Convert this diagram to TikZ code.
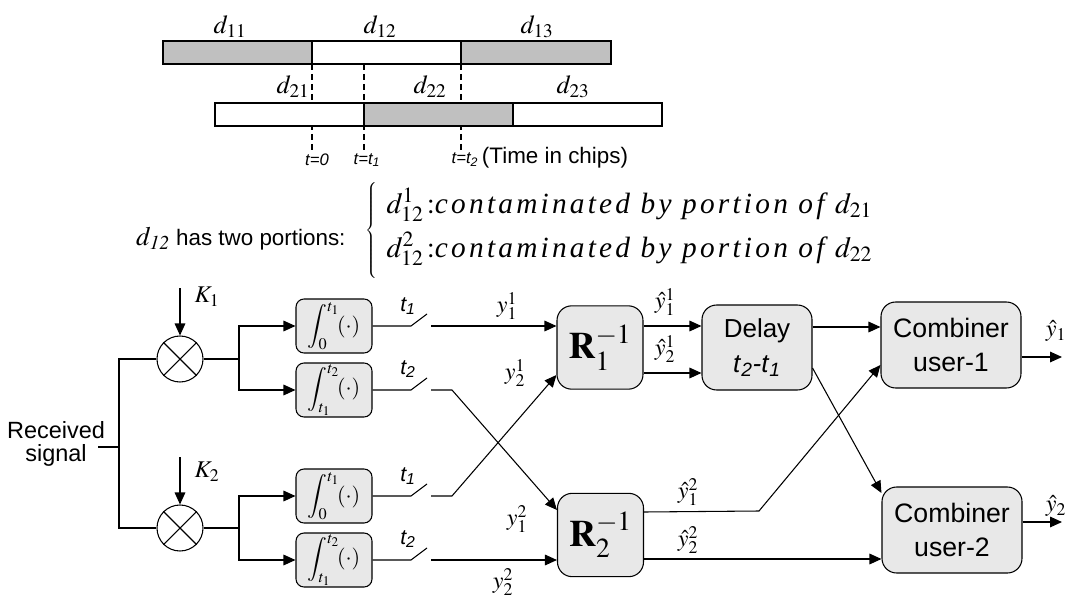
\documentclass[tikz,border=0pt]{standalone}
\usepackage{mathptmx}
\usepackage[no-math]{fontspec}
\setmainfont{Liberation Sans}
\newfontfamily\tmsx[LetterSpace=11]{Liberation Serif}
\usetikzlibrary{arrows.meta}
\definecolor{boxgray}{RGB}{232,232,232}
\definecolor{bargray}{RGB}{192,192,192}
\tikzset{
  blk/.style={draw, fill=boxgray, inner sep=0pt, align=center},
  bar/.style={draw, line width=1.4pt},
  dsh/.style={dashed, line width=1.2pt, dash pattern=on 4.5pt off 3pt},
  mult/.style={draw, circle, minimum size=34.5pt, inner sep=0pt},
  lbl/.style={inner sep=0pt, font=\fontsize{18}{18}\selectfont},
  slbl/.style={inner sep=0pt, font=\fontsize{16}{16}\selectfont\itshape},
  sans/.style={inner sep=0pt, align=center},
}
\begin{document}
\begin{tikzpicture}[x=0.75pt, y=-0.75pt, line width=0.8pt,
  >={Triangle[length=9pt,width=8pt]}]
\useasboundingbox (0,0) rectangle (1070,599);

% ---------- timing bars ----------
\draw[dsh] (312,64) -- (312,150);
\draw[dsh] (364,64) -- (364,150);
\draw[dsh] (461,64) -- (461,150);
\draw[bar, fill=bargray] (163,41) rectangle (312,64);
\draw[bar, fill=white]   (312,41) rectangle (461,64);
\draw[bar, fill=bargray] (461,41) rectangle (611,64);
\draw[bar, fill=white]   (215,103) rectangle (364,126);
\draw[bar, fill=bargray] (364,103) rectangle (513,126);
\draw[bar, fill=white]   (513,103) rectangle (662,126);

\begin{scope}[every node/.style={inner sep=0pt, font=\fontsize{19.5}{19.5}\selectfont}]
\node (d11) at (230,27) {$d_{11}$};
\node (d12) at (380,27) {$d_{12}$};
\node (d13) at (537,27) {$d_{13}$};
\node (d21) at (293,87) {$d_{21}$};
\node (d22) at (430,87) {$d_{22}$};
\node (d23) at (573,87) {$d_{23}$};
\end{scope}

\begin{scope}[every node/.style={inner sep=0pt, font=\fontsize{12.5}{12.5}\selectfont\itshape}]
\node (t0) at (317,160) {t=0};
\node (tt1) at (367,160) {t=t\textsubscript{1}};
\node (tt2) at (465,160) {t=t\textsubscript{2}};
\end{scope}
\node[sans, font=\fontsize{16.8}{16.8}\selectfont] (tic) at (555,158) {(Time in chips)};

% ---------- portions ----------
\node[sans, anchor=base east, font=\fontsize{16.8}{16.8}\selectfont] (por) at (346,245)
  {{\fontsize{20}{20}\selectfont$d_{\mathit{12}}$} has two portions:};
\node[inner sep=0pt] (brace) at (372,231) {$\left\{\vrule height 34pt depth 34pt width 0pt\right.$};
\node[inner sep=0pt, anchor=base west, font=\fontsize{22}{22}\selectfont] (e1) at (386,213)
  {$d_{12}^{1}\,{:}$\tmsx\itshape contaminated by portion of \normalfont$d_{21}$};
\node[inner sep=0pt, anchor=base west, font=\fontsize{22}{22}\selectfont] (e2) at (386,257)
  {$d_{12}^{2}\,{:}$\tmsx\itshape contaminated by portion of \normalfont$d_{22}$};

% ---------- receiver front end ----------
\node[sans, font=\fontsize{17.6}{17.5}\selectfont] (rx) at (56,444) {Received\\signal};
\coordinate (rin) at (98,447);
\coordinate (rj) at (119,447);

\node[mult] (m1) at (180,359) {};
\node[mult] (m2) at (180,528) {};
\draw (m1.north west) -- (m1.south east) (m1.north east) -- (m1.south west);
\draw (m2.north west) -- (m2.south east) (m2.north east) -- (m2.south west);
\coordinate (k1) at (180,288);
\coordinate (k2) at (180,457);
\draw[->] (k1) -- (m1.north);
\draw[->] (k2) -- (m2.north);
\node[lbl] (K1) at (207,297) {$K_1$};
\node[lbl] (K2) at (207,472) {$K_2$};

\draw (rin) -- (rj);
\draw (m1.west) -| (rj) |- (m2.west);

\begin{scope}[every node/.style={blk, rounded corners=6pt, minimum width=57pt, minimum height=40.5pt, font=\fontsize{16.5}{16.5}\selectfont}]
\node (i1) at (334,326) {$\displaystyle\int_0^{t_1}\!\!\left(\cdot\right)$};
\node (i2) at (334,390) {$\displaystyle\int_{t_1}^{t_2}\!\!\left(\cdot\right)$};
\node (i3) at (334,496) {$\displaystyle\int_0^{t_1}\!\!\left(\cdot\right)$};
\node (i4) at (334,560) {$\displaystyle\int_{t_1}^{t_2}\!\!\left(\cdot\right)$};
\end{scope}

\coordinate (s1) at (239,359);
\coordinate (s2) at (239,528);
\draw (m1.east) -- (s1);
\draw (m2.east) -- (s2);
\draw[->] (s1) |- (i1.west);
\draw[->] (s1) |- (i2.west);
\draw[->] (s2) |- (i3.west);
\draw[->] (s2) |- (i4.west);

% switches
\coordinate (a1) at (411,326); \coordinate (b1) at (427,314); \coordinate (c1) at (431,326);
\coordinate (a2) at (411,390); \coordinate (b2) at (427,378); \coordinate (c2) at (431,390);
\coordinate (a3) at (411,496); \coordinate (b3) at (427,484); \coordinate (c3) at (431,496);
\coordinate (a4) at (411,560); \coordinate (b4) at (427,548); \coordinate (c4) at (431,560);
\draw (i1.east) -- (a1) -- (b1);
\draw (i2.east) -- (a2) -- (b2);
\draw (i3.east) -- (a3) -- (b3);
\draw (i4.east) -- (a4) -- (b4);

\node[slbl] (ts1) at (408,306) {t\textsubscript{1}};
\node[slbl] (ts2) at (408,369) {t\textsubscript{2}};
\node[slbl] (ts3) at (408,476) {t\textsubscript{1}};
\node[slbl] (ts4) at (408,539) {t\textsubscript{2}};

% ---------- decorrelators ----------
\begin{scope}[every node/.style={blk, rounded corners=11pt, minimum width=64.5pt, minimum height=62.5pt, font=\fontsize{28}{28}\selectfont}]
\node (r1) at (600,347.5) {$\mathbf{R}_1^{-1}$};
\node (r2) at (600.5,535) {$\mathbf{R}_2^{-1}$};
\end{scope}

\coordinate (q2) at (452,390);
\coordinate (q3) at (452,496);
\coordinate (h375) at (0,375);
\coordinate (h510) at (0,510);
\draw[->] (c1) -- (c1 -| r1.west);
\draw[->] (c2) -- (q2) -- (r2.west |- h510);
\draw[->] (c3) -- (q3) -- (r1.west |- h375);
\draw[->] (c4) -- (c4 -| r2.west);

\node[lbl] (y11) at (507,306) {$y_1^1$};
\node[lbl] (y21) at (515,373) {$y_2^1$};
\node[lbl] (y12) at (517,519) {$y_1^2$};
\node[lbl] (y22) at (503,582) {$y_2^2$};

% ---------- delay & combiners ----------
\node[blk, rounded corners=11pt, minimum width=82.5pt, minimum height=63.75pt,
      font=\fontsize{19.5}{26}\selectfont] (dl) at (757,347.5)
  {Delay\\\textit{t}\textsubscript{\textit{2}}\textit{-t}\textsubscript{\textit{1}}};
\begin{scope}[every node/.style={blk, rounded corners=11pt, minimum width=105pt, minimum height=64.5pt, font=\fontsize{20}{25}\selectfont}]
\node (cb1) at (951,345) {Combiner\\user-1};
\node (cb2) at (952,530) {Combiner\\user-2};
\end{scope}

\coordinate (h326) at (0,326);
\coordinate (h373) at (0,373);
\coordinate (h368) at (0,368);
\coordinate (h327) at (0,327);
\coordinate (h365) at (0,365);
\coordinate (h493) at (0,493);
\coordinate (h512) at (0,512);
\coordinate (h559) at (0,559);
\coordinate (h357) at (0,357);
\coordinate (h522) at (0,522);
\coordinate (bend) at (759,511);
\coordinate (o1) at (1062,357);
\coordinate (o2) at (1062,522);

\draw[->] (r1.east |- h326) -- (dl.west |- h326);
\draw[->] (r1.east |- h373) -- (dl.west |- h373);
\draw[->] (dl.east |- h327) -- (cb1.west |- h327);
\draw[->] (dl.east |- h368) -- (cb2.west |- h493);
\draw[->] (r2.east |- h512) -- (bend) -- (cb1.west |- h365);
\draw[->] (r2.east |- h559) -- (cb2.west |- h559);
\draw[->] (cb1.east |- h357) -- (o1);
\draw[->] (cb2.east |- h522) -- (o2);

\node[lbl] (yh11) at (665,302) {$\hat{y}_1^1$};
\node[lbl] (yh21) at (665,349) {$\hat{y}_2^1$};
\node[lbl] (yh12) at (688,492) {$\hat{y}_1^2$};
\node[lbl] (yh22) at (688,540) {$\hat{y}_2^2$};
\node[lbl] (yo1) at (1056,331) {$\hat{y}_1$};
\node[lbl] (yo2) at (1056,506) {$\hat{y}_2$};
\end{tikzpicture}
\end{document}
